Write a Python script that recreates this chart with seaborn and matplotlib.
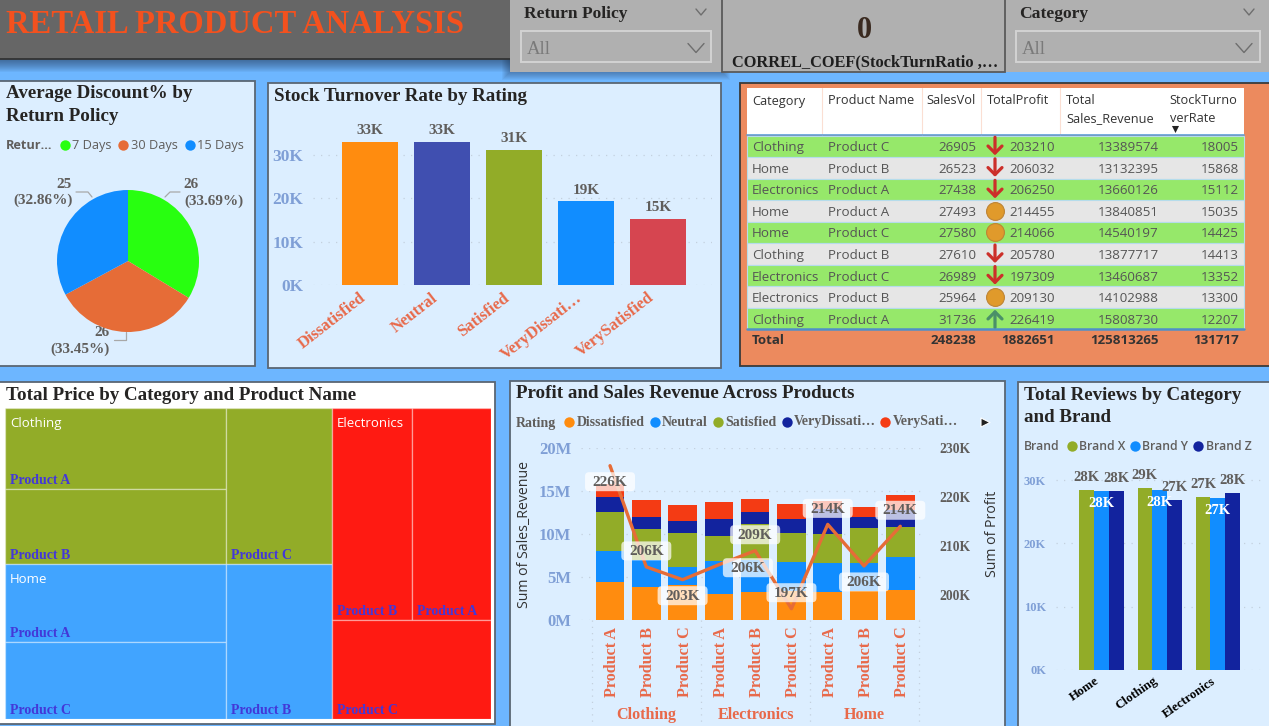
import numpy as np
import pandas as pd
import matplotlib.pyplot as plt
from matplotlib.patches import Rectangle, FancyBboxPatch
from matplotlib.transforms import ScaledTranslation, IdentityTransform
import seaborn as sns

W, H = 1269, 726
SERIF = 'Liberation Serif'
SANS = 'Open Sans'

PAGE_BG = '#6DB6FF'
PANEL_BG = '#DCEEFF'
BORDER = '#5A6673'
TICK_BLUE = '#7F9FD6'
LABEL_RED = '#E8694A'
GREY_TXT = '#605E5C'
ORANGE, BLUE, OLIVE, NAVY, RED = '#FF8C0F', '#118DFF', '#92AC28', '#12239E', '#F43B14'

# data
policy_names = ['7 Days', '30 Days', '15 Days']
policy_share = [33.69, 33.45, 32.86]
policy_avg = [26, 26, 25]

ratings = ['Dissatisfied', 'Neutral', 'Satisfied', 'VeryDissati…', 'VerySatisfied']
turnover = [33100, 33000, 31100, 19300, 15200]
turnover_labels = ['33K', '33K', '31K', '19K', '15K']

table_category = ['Clothing', 'Home', 'Electronics', 'Home', 'Home', 'Clothing',
                  'Electronics', 'Electronics', 'Clothing']
table_product = ['Product C', 'Product B', 'Product A', 'Product A', 'Product C',
                 'Product B', 'Product C', 'Product B', 'Product A']
table_sales = [26905, 26523, 27438, 27493, 27580, 27610, 26989, 25964, 31736]
table_profit = [203210, 206032, 206250, 214455, 214066, 205780, 197309, 209130, 226419]
table_revenue = [13389574, 13132395, 13660126, 13840851, 14540197, 13877717,
                 13460687, 14102988, 15808730]
table_turn = [18005, 15868, 15112, 15035, 14425, 14413, 13352, 13300, 12207]
table_icon = ['down', 'down', 'down', 'mid', 'mid', 'down', 'down', 'mid', 'up']
table_total = ['248238', '1882651', '125813265', '131717']

price_clothing = {'Product A': 17.9, 'Product B': 16.6, 'Product C': 16.5}
price_home = {'Product A': 17.2, 'Product C': 17.0, 'Product B': 16.4}
price_electronics = {'Product B': 16.9, 'Product A': 16.8, 'Product C': 15.7}

combo_products = ['Product A', 'Product B', 'Product C'] * 3
combo_groups = ['Clothing', 'Electronics', 'Home']
rev_dissatisfied = [4.35, 3.77, 4.00, 3.00, 3.20, 3.30, 3.20, 3.34, 3.42]
rev_neutral = [3.69, 3.20, 2.17, 3.87, 3.70, 3.38, 3.40, 3.22, 3.92]
rev_satisfied = [4.46, 3.55, 3.89, 2.88, 4.20, 3.38, 3.40, 4.12, 3.49]
rev_very_dissatisfied = [1.80, 1.48, 1.44, 1.95, 1.44, 1.64, 2.90, 1.28, 1.97]
rev_very_satisfied = [1.50, 1.90, 1.89, 2.00, 1.56, 1.74, 0.94, 1.17, 1.74]
profit_k = [226.4, 205.8, 203.2, 206.25, 209.1, 197.3, 214.46, 206.0, 214.07]
profit_labels = ['226K', '206K', '203K', '206K', '209K', '197K', '214K', '206K', '214K']

review_categories = ['Home', 'Clothing', 'Electronics']
brands = ['Brand X', 'Brand Y', 'Brand Z']
reviews_x = [28400, 28700, 27300]
reviews_y = [28200, 28500, 27200]
reviews_z = [28200, 26900, 27900]

sns.set_theme(style='white')
plt.rcParams['font.family'] = [SANS, 'DejaVu Sans']

fig = plt.figure(figsize=(W / 100, H / 100), dpi=100, facecolor=PAGE_BG)

# page sized axes, y down, for panels and free text
canvas = fig.add_axes([0, 0, 1, 1], zorder=0)
canvas.set_xlim(0, W)
canvas.set_ylim(H, 0)
canvas.axis('off')


def px_axes(left, top, right, bottom):
    ax = fig.add_axes([left / W, 1 - bottom / H, (right - left) / W, (bottom - top) / H], zorder=2)
    ax.set_facecolor('none')
    return ax


def panel(x0, y0, x1, y1, color=PANEL_BG, edge=BORDER, lw=1.3, z=1):
    canvas.add_patch(Rectangle((x0, y0), x1 - x0, y1 - y0, fc=color, ec=edge, lw=lw, zorder=z))


def shadow(x0, y0, x1, y1, size=12, alpha=0.05):
    for i in range(size, 0, -1):
        canvas.add_patch(Rectangle((x0 - i, y0), x1 - x0 + 2 * i, y1 - y0 + i, fc='#1A2A40',
                                   ec='none', alpha=alpha, zorder=0.5))


def title(x, y, txt, size=13.7):
    canvas.text(x, y + 1.5, txt, family=SERIF, weight='bold', size=size, color='#252423', va='center', zorder=3)


def chevron(x, y, half, drop, color='#6E6E6E', lw=1):
    canvas.plot([x - half, x, x + half], [y - drop, y + drop, y - drop], color=color, lw=lw, zorder=3)


def legend_row(y, items, family=SERIF, size=10, weight='bold'):
    for dot_x, txt_x, txt, col in items:
        canvas.scatter([dot_x], [y], s=56, color=col, zorder=3, linewidths=0)
        canvas.text(txt_x, y, txt, va='center', family=family, weight=weight, size=size, color=GREY_TXT, zorder=3)


def shift_labels(ax, px):
    # move x tick labels sideways, in pixels
    for lab in ax.get_xticklabels():
        lab.set_transform(lab.get_transform() + ScaledTranslation(px / 100, 0, fig.dpi_scale_trans))


def style_axes(ax, tick_size=11):
    sns.despine(ax=ax, left=True, bottom=True)
    ax.grid(axis='y', color='#C4D0DE', lw=0.9, ls=(0, (1, 5)))
    ax.grid(axis='x', visible=False)
    ax.set_axisbelow(True)
    ax.tick_params(length=0)
    ax.set_xlabel('')
    ax.set_ylabel('')
    for lab in ax.get_yticklabels():
        lab.set(family=SERIF, weight='bold', size=tick_size, color=TICK_BLUE)


#########
# header
#########
shadow(0, 0, 510, 60)
panel(-2, -2, 511, 59, color='#666666', edge='#333333')
canvas.text(6, 24.5, 'RETAIL PRODUCT ANALYSIS', family=SERIF, weight='bold', size=23.5,
            color='#F4511E', va='center', zorder=3)

for x0, x1, name, box0, box1, chev1, chev2 in [(510, 722, 'Return Policy', 521, 711, 701, 696),
                                               (1005, 1271, 'Category', 1016, 1260, 1249, 1244)]:
    if name == 'Return Policy':
        shadow(x0, 0, x1, 72, size=8)
    panel(x0, -2, x1, 72, color='#B0B0B0', edge='none', lw=0, z=1.2)
    canvas.text(x0 + 14, 14, name, family=SERIF, weight='bold', size=12.6, color='#252423', va='center', zorder=3)
    chevron(chev1, 12, 5, 3)
    canvas.add_patch(Rectangle((box0, 31), box1 - box0, 31, fc='none', ec='#D2D2D2', lw=1.4, zorder=3))
    canvas.text(box0 + 6, 49, 'All', family=SERIF, size=13.5, color='#7A7A7A', va='center', zorder=3)
    chevron(chev2, 48, 8, 4.5)

panel(722, -2, 1005, 72, color='#B0B0B0', edge='#5A5A5A', z=1.3)
canvas.text(864, 30, '0', family=SERIF, weight='bold', size=22, color='#3A2A20', ha='center', va='center', zorder=3)
canvas.text(732, 62, 'CORREL_COEF(StockTurnRatio ,…', family=SERIF, weight='bold', size=11.75,
            color='#1E1E1E', va='center', zorder=3)

#####
# pie
#####
panel(-2, 81, 255, 366)
title(6, 92, 'Average Discount% by')
title(6, 115, 'Return Policy')
canvas.text(6, 145.5, 'Retur...', size=9.2, weight='bold', color=GREY_TXT, va='center', zorder=3)
for dot_x, txt_x, name, col in zip([65, 123, 190], [72, 131, 197], policy_names, ['#28FF10', '#E66C37', BLUE]):
    canvas.scatter([dot_x], [145], s=56, color=col, zorder=3, linewidths=0)
    canvas.text(txt_x, 145.5, name, size=9.2, color=GREY_TXT, va='center', zorder=3)

ax = px_axes(57, 190, 199, 332)
ax.pie(policy_share, colors=['#28FF10', '#E66C37', BLUE], startangle=90, counterclock=False, radius=1,
       wedgeprops=dict(linewidth=0))
ax.set_xlim(-1, 1)
ax.set_ylim(-1, 1)

pie_labels = [(191, 184, 214, 201), (102, 333, 80, 349), (64, 184, 43, 200)]
pie_leaders = [([165, 170, 180], [197, 192, 192]), ([126, 126, 114], [332, 340, 340]), ([92, 88, 76], [197, 192, 192])]
for val, share, (x1, y1, x2, y2), (lx, ly) in zip(policy_avg, policy_share, pie_labels, pie_leaders):
    canvas.text(x1, y1, str(val), family=SERIF, weight='bold', size=11, color=GREY_TXT, ha='center', va='center', zorder=3)
    canvas.text(x2, y2, f'({share:.2f}%)', family=SERIF, weight='bold', size=11, color=GREY_TXT, ha='center', va='center', zorder=3)
    canvas.plot(lx, ly, color='#A8A8A8', lw=0.9, zorder=3)

###############
# stock by rating
###############
panel(268, 83, 721, 368)
title(274, 95, 'Stock Turnover Rate by Rating')
ax = px_axes(313, 130, 712, 285)
sns.barplot(x=ratings, y=turnover, hue=ratings, palette=[ORANGE, '#404FB0', OLIVE, BLUE, '#D64550'],
            width=0.777, saturation=1, legend=False, linewidth=0, ax=ax)
ax.set_xlim(-0.79, 4.75)
ax.set_ylim(0, 35800)
ax.set_yticks([0, 10000, 20000, 30000], ['0K', '10K', '20K', '30K'])
style_axes(ax, tick_size=12.5)
ax.tick_params(axis='y', pad=7)
ax.set_xticks(range(5), ratings)
for lab in ax.get_xticklabels():
    lab.set(family=SERIF, weight='bold', size=12, color=LABEL_RED, rotation=38, ha='right', rotation_mode='anchor')
shift_labels(ax, -11)
for i, (v, lab) in enumerate(zip(turnover, turnover_labels)):
    ax.annotate(lab, (i, v), xytext=(0, 3.5), textcoords='offset points', ha='center', va='bottom',
                family=SERIF, weight='bold', size=11, color=GREY_TXT)

#######
# table
#######
panel(740, 83, 1271, 366, color='#EC8A5E', edge='#3A3A3A')
canvas.add_patch(Rectangle((747, 88), 497, 47, fc='white', ec='none', zorder=2))
for sep in [822, 921.5, 981, 1060.4]:
    canvas.plot([sep, sep], [88, 135], color='#FBDFD3', lw=0.8, zorder=2.5)
headers = [(752, 101, 'Category'), (828.5, 101, 'Product Name'), (926.5, 101, 'SalesVol'), (987, 101, 'TotalProfit'),
           (1066, 101, 'Total'), (1066, 119, 'Sales_Revenue'), (1169.7, 101, 'StockTurno'), (1169.7, 119, 'verRate')]
for x, y, txt in headers:
    canvas.text(x, y, txt, size=9.2, color='#333333', va='center', zorder=3)
canvas.scatter([1174.5], [129], marker='v', s=26, color='#222222', zorder=3, linewidths=0)
canvas.plot([747, 1244], [135, 135], color='#5F9FD8', lw=1.2, zorder=3)

row_h = 21.55
for i in range(len(table_category)):
    top = 135.5 + i * row_h
    canvas.add_patch(Rectangle((747, top), 497, row_h, fc='#96E86A' if i % 2 == 0 else '#E6E6E6',
                               ec='#B5DCEB', lw=0.8, zorder=2))
    yc = top + row_h / 2
    ty = yc + 1.5
    canvas.text(752, ty, table_category[i], size=9.6, color='#555555', va='center', zorder=3)
    canvas.text(828.5, ty, table_product[i], size=9.6, color='#555555', va='center', zorder=3)
    canvas.text(976.5, ty, f'{table_sales[i]}', size=9.6, color='#555555', va='center', ha='right', zorder=3)
    canvas.text(1055, ty, f'{table_profit[i]}', size=9.6, color='#555555', va='center', ha='right', zorder=3)
    canvas.text(1158.7, ty, f'{table_revenue[i]}', size=9.6, color='#555555', va='center', ha='right', zorder=3)
    canvas.text(1239, ty, f'{table_turn[i]}', size=9.6, color='#555555', va='center', ha='right', zorder=3)
    if table_icon[i] == 'mid':
        canvas.scatter([995], [yc], s=165, color='#E09A2B', edgecolors='#BE8434', linewidths=0.8, zorder=3)
    elif table_icon[i] == 'down':
        canvas.annotate('', xy=(995, yc + 9), xytext=(995, yc - 9), zorder=3,
                        arrowprops=dict(arrowstyle='->,head_width=0.42,head_length=0.42', color='#CC2F2A', lw=2.3,
                                        shrinkA=0, shrinkB=0))
    else:
        canvas.annotate('', xy=(995, yc - 9), xytext=(995, yc + 9), zorder=3,
                        arrowprops=dict(arrowstyle='->,head_width=0.42,head_length=0.42', color='#4A9068', lw=2.3,
                                        shrinkA=0, shrinkB=0))
canvas.plot([747, 1244], [329.4, 329.4], color='#4F8FC8', lw=1.8, zorder=3)
canvas.text(752, 341, 'Total', size=9.6, weight='bold', color='#333333', va='center', zorder=3)
for x, txt in zip([976.5, 1055, 1158.7, 1239], table_total):
    canvas.text(x, 341, txt, size=9.6, weight='bold', color='#333333', va='center', ha='right', zorder=3)

#########
# treemap
#########
panel(-2, 382, 495, 724, color='white', edge=BORDER)
title(6, 394, 'Total Price by Category and Product Name')
ax = px_axes(5, 408, 491, 719)
ax.set_xlim(0, 1)
ax.set_ylim(1, 0)
ax.axis('off')

clothing_total = sum(price_clothing.values())
home_total = sum(price_home.values())
electronics_total = sum(price_electronics.values())
grand_total = clothing_total + home_total + electronics_total
left_w = (clothing_total + home_total) / grand_total
top_h = clothing_total / (clothing_total + home_total)


def treemap_cells(values, x, y, w, h, wide):
    names, vals = list(values), list(values.values())
    total = sum(vals)
    pair = (vals[0] + vals[1]) / total
    if wide:
        return [(names[0], x, y, w * pair, h * vals[0] / (vals[0] + vals[1])),
                (names[1], x, y + h * vals[0] / (vals[0] + vals[1]), w * pair, h * vals[1] / (vals[0] + vals[1])),
                (names[2], x + w * pair, y, w * (1 - pair), h)]
    return [(names[0], x, y, w * vals[0] / (vals[0] + vals[1]), h * pair),
            (names[1], x + w * vals[0] / (vals[0] + vals[1]), y, w * vals[1] / (vals[0] + vals[1]), h * pair),
            (names[2], x, y + h * pair, w, h * (1 - pair))]


for name, values, rect, col, wide in [
        ('Clothing', price_clothing, (0, 0, left_w, top_h), OLIVE, True),
        ('Home', price_home, (0, top_h, left_w, 1 - top_h), '#41A4FF', True),
        ('Electronics', price_electronics, (left_w, 0, 1 - left_w, 1), '#FF1A12', False)]:
    for prod, x, y, w, h in treemap_cells(values, *rect, wide):
        ax.bar(x, h, width=w, bottom=y, align='edge', color=col, edgecolor=(1, 1, 1, 0.35), linewidth=1)
        ax.annotate(prod, (x, y + h), xytext=(3.5, 1.5), textcoords='offset points', family=SERIF, weight='bold',
                    size=10, color='#4338D8', va='bottom')
    ax.annotate(name, (rect[0], rect[1]), xytext=(3.5, -11), textcoords='offset points', size=9.5, color='white', va='center')

#######
# combo
#######
panel(510, 381, 1005, 730)
title(516, 392, 'Profit and Sales Revenue Across Products')
canvas.text(516, 423, 'Rating', family=SERIF, weight='bold', size=10, color=GREY_TXT, va='center', zorder=3)
legend_row(422, [(569, 577, 'Dissatisfied', ORANGE), (655, 662, 'Neutral', BLUE), (717.7, 725.7, 'Satisfied', OLIVE),
                 (786.7, 794, 'VeryDissati…', NAVY), (885, 893, 'VerySati…', RED)])
canvas.scatter([985], [422], marker='>', s=42, color='#222222', edgecolors='white', linewidths=0.8, zorder=3)
canvas.text(525, 534, 'Sum of Sales_Revenue', size=10.2, rotation=90, color='#333333', ha='center', va='center', zorder=3)
canvas.text(993, 534, 'Sum of Profit', size=10.2, rotation=90, color='#333333', ha='center', va='center', zorder=3)

ax = px_axes(581, 448, 925.7, 619.7)
combo_keys = [f'{g} {p}' for g in combo_groups for p in combo_products[:3]]
stack = pd.DataFrame({'Dissatisfied': rev_dissatisfied, 'Neutral': rev_neutral, 'Satisfied': rev_satisfied,
                      'VeryDissatisfied': rev_very_dissatisfied, 'VerySatisfied': rev_very_satisfied},
                     index=combo_keys).cumsum(axis=1) * 1e6
# tallest first, each shorter layer covers the one behind
for col, color in zip(stack.columns[::-1], [RED, NAVY, OLIVE, BLUE, ORANGE]):
    sns.barplot(x=stack.index, y=stack[col].values, color=color, width=0.79, saturation=1, linewidth=0, ax=ax)
ax.set_xlim(-0.8, 8.7)
ax.set_ylim(0, 20e6)
ax.set_yticks([0, 5e6, 10e6, 15e6, 20e6], ['0M', '5M', '10M', '15M', '20M'])
style_axes(ax, tick_size=12)
ax.tick_params(axis='y', pad=7)
ax.set_xticks(range(9), combo_products)
for lab in ax.get_xticklabels():
    lab.set(family=SERIF, weight='bold', size=11.6, color=LABEL_RED, rotation=90)
ax.tick_params(axis='x', pad=5)
shift_labels(ax, 2)

ax2 = ax.twinx()
ax2.set_facecolor('none')
sns.lineplot(x=np.arange(9), y=profit_k, color='#E66C37', lw=2.4, ax=ax2, legend=False)
ax2.set_ylim(195.06, 230)
ax2.set_xlim(-0.8, 8.7)
ax2.set_yticks([200, 210, 220, 230], ['200K', '210K', '220K', '230K'])
sns.despine(ax=ax2, left=True, bottom=True, right=True)
ax2.tick_params(length=0, pad=10)
ax2.set_ylabel('')
for lab in ax2.get_yticklabels():
    lab.set(family=SERIF, weight='bold', size=9.8, color=GREY_TXT)
ax2.grid(False)

# label boxes have a fixed size in the picture, offsets in pixels with y up
label_offsets = [(0, -16), (0, 16), (0, -16), (29, -3), (0, 16), (0, 16), (0, 16), (0, -16), (0, 16)]
for i, (v, lab, (dx, dy)) in enumerate(zip(profit_k, profit_labels, label_offsets)):
    px, py = ax2.transData.transform((i, v))
    ax2.add_patch(FancyBboxPatch((px + dx - 25, py + dy - 9.5), 50, 19, boxstyle='round,pad=0,rounding_size=4',
                                 fc='white', ec='none', alpha=0.72, transform=IdentityTransform(), zorder=5,
                                 clip_on=False))
    ax2.annotate(lab, (i, v), xytext=(dx * 0.72, dy * 0.72 - 0.5), textcoords='offset points', ha='center', va='center',
                 zorder=6, family=SERIF, weight='bold', size=11, color=GREY_TXT)

for sep in [592.3, 701.3, 810.3, 919.3]:
    canvas.plot([sep, sep], [620, 726], color='#C4D0DE', lw=0.9, ls=(0, (1, 4)), zorder=1.5)
for x, name in zip([646.5, 755.7, 864.5], combo_groups):
    canvas.text(x, 715, name, family=SERIF, weight='bold', size=11.6, color=LABEL_RED, ha='center', va='center', zorder=3)

#########
# reviews
#########
panel(1018, 382, 1271, 730)
title(1024, 394, 'Total Reviews by Category')
title(1024, 416, 'and Brand')
canvas.text(1024, 446, 'Brand', weight=600, size=8.8, color=GREY_TXT, va='center', zorder=3)
legend_row(446, [(1072, 1079, 'Brand X', OLIVE), (1135, 1142, 'Brand Y', BLUE), (1198, 1206, 'Brand Z', NAVY)],
           family=SANS, size=8.8, weight=600)

reviews = pd.DataFrame({'category': review_categories * 3,
                        'brand': [b for b in brands for _ in review_categories],
                        'reviews': reviews_x + reviews_y + reviews_z})
ax = px_axes(1055.7, 462, 1266, 670)
sns.barplot(data=reviews, x='category', y='reviews', hue='brand', order=review_categories, hue_order=brands,
            palette=[OLIVE, BLUE, NAVY], width=0.76, gap=0, saturation=1, legend=False, linewidth=0, ax=ax)
ax.set_xlim(-0.787, 2.83)
ax.set_ylim(0, 32850)
ax.set_yticks([0, 10000, 20000, 30000], ['0K', '10K', '20K', '30K'])
style_axes(ax, tick_size=9)
ax.tick_params(axis='y', pad=7)
ax.set_xticks(range(3), review_categories)
for lab in ax.get_xticklabels():
    lab.set(family=SERIF, weight='bold', size=9.3, color='black', rotation=35, ha='right', rotation_mode='anchor')
shift_labels(ax, -7)
for cont, off, col in zip(ax.containers, [9, -9, 9], [GREY_TXT, 'white', GREY_TXT]):
    for bar in cont:
        v = bar.get_height()
        ax.annotate(f'{v / 1000:.0f}K', (bar.get_x() + bar.get_width() / 2, v), xytext=(0, off),
                    textcoords='offset points', ha='center', va='center', family=SERIF, weight='bold',
                    size=10.5, color=col)

fig.savefig('out.png', dpi=100, facecolor=PAGE_BG)
